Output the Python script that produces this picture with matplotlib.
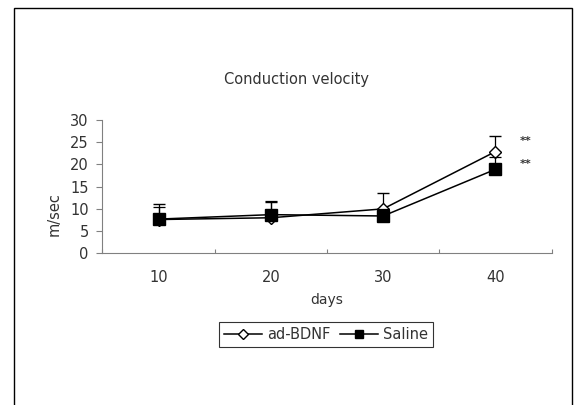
import matplotlib
matplotlib.use('Agg')
import matplotlib.pyplot as plt
from matplotlib.patches import Rectangle

# data
days = ['10', '20', '30', '40']
bdnf = [7.6, 8.0, 10.0, 22.9]
bdnf_err = [3.4, 3.6, 3.5, 3.5]
saline = [7.7, 8.7, 8.4, 18.9]
saline_err = [2.7, 3.0, 1.5, 2.8]
stars = ['**', '**']
star_y = [25.3, 20.1]

txt = '#333333'
plt.rcParams['font.family'] = ['DejaVu Sans']

fig = plt.figure(figsize=(5.78, 4.05), dpi=100)
ax = fig.add_axes([0.1773, 0.3746, 0.777, 0.329])

x = list(range(1, len(days) + 1))

eb1 = ax.errorbar(x, bdnf, yerr=[[0] * 4, bdnf_err], color='black', lw=1.1,
                  marker='D', markersize=6.5, mfc='white', mec='black',
                  mew=1.0, ecolor='black', elinewidth=0.9, capsize=4,
                  capthick=0.9, label='ad-BDNF', zorder=3)
eb2 = ax.errorbar(x, saline, yerr=[[0] * 4, saline_err], color='black',
                  lw=1.1, marker='s', markersize=8, mfc='black', mec='black',
                  ecolor='black', elinewidth=0.9, capsize=4, capthick=0.9,
                  label='Saline', zorder=4)

for s, yv in zip(stars, star_y):
    ax.text(4.22, yv, s, fontsize=8, fontweight='bold', color=txt,
            va='center', ha='left')

ax.set_xlim(0.5, 4.5)
ax.set_ylim(0, 30)
ax.set_yticks([0, 5, 10, 15, 20, 25, 30])

# category ticks between bins, labels centred in bins
ax.set_xticks([0.5, 1.5, 2.5, 3.5, 4.5])
ax.set_xticklabels([])
ax.set_xticks(x, minor=True)
ax.set_xticklabels(days, minor=True)
ax.tick_params(axis='x', which='major', direction='in', length=3,
               color='#808080')
ax.tick_params(axis='x', which='minor', length=0, pad=12, labelsize=10.5,
               labelcolor=txt)
ax.tick_params(axis='y', direction='out', length=4, color='#808080',
               labelsize=10.5, labelcolor=txt, pad=6)

for side in ['top', 'right']:
    ax.spines[side].set_visible(False)
for side in ['left', 'bottom']:
    ax.spines[side].set_color('#808080')

ax.set_xlabel('days', fontsize=10, color=txt, labelpad=6)
fig.text(0.094, 0.472, 'm/sec', rotation=90, fontsize=10.5, color=txt,
         ha='center', va='center')
fig.text(0.513, 0.804, 'Conduction velocity', fontsize=10.5, color=txt,
         ha='center', va='center')

# legend uses only the data lines (no error bars in the key)
leg = fig.legend([eb1[0], eb2[0]], ['ad-BDNF', 'Saline'], loc='center',
                 ncol=2, bbox_to_anchor=(0.564, 0.1736), fontsize=10.5,
                 frameon=True, fancybox=False, handlelength=2.6,
                 markerscale=0.75, handletextpad=0.3, columnspacing=0.7,
                 borderpad=0.35, labelcolor=txt)
leg.get_frame().set_edgecolor('black')
leg.get_frame().set_linewidth(0.8)

# outer chart frame, cut off at the bottom
fig.patches.append(Rectangle((14 / 578, -0.1), (572 - 14) / 578,
                             1.1 - 8 / 405, transform=fig.transFigure,
                             fill=False, edgecolor='black', lw=1.0))

fig.savefig('out.png', dpi=100)
